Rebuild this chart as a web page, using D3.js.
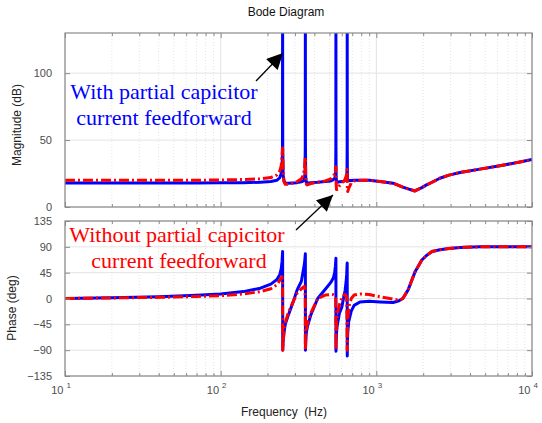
<!DOCTYPE html>
<html><head><meta charset="utf-8">
<script src="https://cdn.jsdelivr.net/npm/d3@7"></script>
<style>body{margin:0;background:#fff}</style>
</head><body>
<script>
// Frequency points (Hz)
const freqs = [10, 20, 40, 70, 100, 140, 180, 210, 230, 240,
  245, 248, 249.5, 250, 250.5, 252, 255, 260, 272, 293,
  310, 330, 340, 345, 348, 349.5, 350, 350.5, 352, 355,
  360, 380, 420, 470, 510, 530, 540, 545, 548, 549.5,
  550, 550.5, 552, 555, 560, 580, 600, 620, 630, 640,
  645, 648, 649.5, 650, 650.5, 652, 655, 665, 690, 720,
  785, 900, 1055, 1280, 1400, 1480, 1600, 1770, 1960, 2100,
  2280, 2560, 2930, 3450, 4630, 6220, 8360, 10000];
// Magnitude (dB) - with partial capacitor current feedforward (blue)
const magWith = [18, 18, 18, 18, 18.1, 18.2, 18.5, 19, 20, 22,
  25, 30, 45, 140, 45, 24, 19.5, 18, 17.8, 18,
  18.2, 18.8, 19.5, 21, 25, 45, 140, 45, 22, 18.5,
  18, 18.2, 18.5, 19, 19.5, 20.5, 21.5, 23, 27, 45,
  140, 45, 22, 19, 18.5, 18.8, 19, 19.2, 20, 21,
  23, 27, 45, 140, 45, 22, 20, 19.8, 19.8, 20,
  20, 20, 19, 17.8, 16, 14.8, 13.5, 12, 14.5, 16.5,
  18.5, 21.5, 23.8, 25.8, 28.3, 30.8, 33.6, 35.5];
// Magnitude (dB) - without (red)
const magWithout = [20, 20, 20, 20, 20.2, 20.5, 21, 22, 24, 27,
  31, 38, 43, 44, 40, 28, 19, 17, 17, 18,
  19, 21, 24, 29, 34, 37, 36, 30, 22, 17,
  16.5, 17.5, 18.5, 19.5, 21, 23, 25, 27, 29, 30,
  29, 24, 17, 13, 13, 16, 18, 19.5, 21, 23,
  25, 27, 28, 26, 20, 13, 11.5, 14, 18, 19.5,
  20, 20, 19, 17.8, 16, 14.8, 13.5, 12, 14.5, 16.5,
  18.5, 21.5, 23.8, 25.8, 28.3, 30.8, 33.6, 35.5];
// Phase (deg) - with (blue)
const phaseWith = [0, 1.5, 3, 5.5, 8, 12, 18, 25, 33, 42,
  52, 65, 78, 82, -90, -75, -60, -45, -29, -5,
  15, 30, 50, 60, 70, 76, 78, -90, -75, -60,
  -50, -28, 0, 16, 28, 36, 45, 55, 63, 68,
  70, -92, -75, -60, -48, -25, -15, 5, 14, 30,
  42, 55, 60, 62, -100, -75, -60, -40, -22, -12,
  -6, -5, -6, -7, -4, 0, 15, 46, 67, 75,
  82, 85, 87, 89, 90, 90, 90, 90];
// Phase (deg) - without (red)
const phaseWithout = [0, 1, 2, 3.5, 5, 8, 12, 17, 24, 32,
  36, 38, 30, 0, -90, -75, -58, -42, -25, -5,
  9, 17, 20, 21, 18, 0, -90, -88, -70, -55,
  -45, -25, 0, 6, 7, 6.5, 5, 3, 0, -30,
  -90, -88, -65, -45, -30, -10, 0, 6, 7, 5,
  0, -40, -85, -90, -85, -60, -40, -15, 0, 6,
  8, 7, 3, -1, -3, 0, 15, 46, 67, 75,
  82, 85, 87, 89, 90, 90, 90, 90];

const magTicks = [0, 50, 100];
const phaseTicks = [-135, -90, -45, 0, 45, 90, 135];
const decadeTicks = [10, 100, 1000, 10000];

const W = 542, H = 423;
const svg = d3.select("body").append("svg").attr("width", W).attr("height", H)
  .style("font-family", "Liberation Sans, Arial, sans-serif");

const x = d3.scaleLog().domain([10, 10000]).range([65, 532]);
const yMag = d3.scaleLinear().domain([0, 130]).range([207, 33]);
const yPh = d3.scaleLinear().domain([-135, 135]).range([376, 221]);

const minorX = x.ticks().filter(v => !decadeTicks.includes(v));
const gridC = "#e3e3e3", boxC = "#8a8a8a", labC = "#4d4d4d";

function panel(id, y, yTicks, series) {
  const [y0, y1] = y.range();
  const x0 = x.range()[0], x1 = x.range()[1];
  const g = svg.append("g");
  g.append("clipPath").attr("id", id).append("rect")
    .attr("x", x0).attr("y", y1).attr("width", x1 - x0).attr("height", y0 - y1);
  g.selectAll(null).data(minorX).join("line")
    .attr("x1", d => x(d)).attr("x2", d => x(d)).attr("y1", y1).attr("y2", y0)
    .attr("stroke", gridC).attr("stroke-dasharray", "1,2");
  g.selectAll(null).data(decadeTicks).join("line")
    .attr("x1", d => x(d)).attr("x2", d => x(d)).attr("y1", y1).attr("y2", y0)
    .attr("stroke", gridC);
  g.selectAll(null).data(yTicks).join("line")
    .attr("x1", x0).attr("x2", x1).attr("y1", d => y(d)).attr("y2", d => y(d))
    .attr("stroke", gridC);
  const cg = g.append("g").attr("clip-path", `url(#${id})`);
  series.forEach(s => {
    const line = d3.line().x((d, i) => x(freqs[i])).y(d => y(d));
    cg.append("path").attr("d", line(s.values)).attr("fill", "none")
      .attr("stroke", s.color).attr("stroke-width", 3)
      .attr("stroke-dasharray", s.dash || null)
      .attr("stroke-linejoin", "round");
  });
  const ax = g.append("g").attr("color", boxC);
  ax.append("g").attr("transform", `translate(${x0},0)`)
    .call(d3.axisLeft(y).tickValues(yTicks).tickSize(-5).tickPadding(13).tickFormat(d3.format("d")))
    .call(a => a.select(".domain").remove())
    .call(a => a.selectAll("text").attr("fill", labC).style("font-size", "11px").attr("x", -13));
  ax.append("g").attr("transform", `translate(${x1},0)`)
    .call(d3.axisRight(y).tickValues(yTicks).tickSize(-5).tickFormat(""))
    .call(a => a.select(".domain").remove());
  ax.append("g").attr("transform", `translate(0,${y0})`)
    .call(d3.axisBottom(x).tickValues(decadeTicks).tickSize(-5).tickFormat(""))
    .call(a => a.select(".domain").remove());
  ax.append("g").attr("transform", `translate(0,${y0})`)
    .call(d3.axisBottom(x).tickValues(minorX).tickSize(-3).tickFormat(""))
    .call(a => a.select(".domain").remove());
  ax.append("g").attr("transform", `translate(0,${y1})`)
    .call(d3.axisTop(x).tickValues(decadeTicks).tickSize(-5).tickFormat(""))
    .call(a => a.select(".domain").remove());
  ax.append("g").attr("transform", `translate(0,${y1})`)
    .call(d3.axisTop(x).tickValues(minorX).tickSize(-3).tickFormat(""))
    .call(a => a.select(".domain").remove());
  g.append("rect").attr("x", x0).attr("y", y1).attr("width", x1 - x0).attr("height", y0 - y1)
    .attr("fill", "none").attr("stroke", boxC).attr("stroke-width", 1.2);
  return g;
}

const blue = "#0000ff", red = "#ff0000", dash = "10,3,2,3";
panel("clipMag", yMag, magTicks, [
  { values: magWith, color: blue },
  { values: magWithout, color: red, dash: dash }
]);
panel("clipPh", yPh, phaseTicks, [
  { values: phaseWith, color: blue },
  { values: phaseWithout, color: red, dash: dash }
]);

const xl = svg.append("g").attr("fill", labC).style("font-size", "11px");
decadeTicks.forEach(d => {
  const t = xl.append("text").attr("x", x(d) - 4).attr("y", 394).attr("text-anchor", "middle");
  t.append("tspan").text("10");
  t.append("tspan").attr("dx", 3).attr("dy", -6).style("font-size", "8px").text(String(Math.round(Math.log10(d))));
});

svg.append("text").attr("x", 286).attr("y", 16).attr("text-anchor", "middle")
  .style("font-size", "12px").attr("fill", "#111").text("Bode Diagram");
svg.append("text").attr("x", 284).attr("y", 416).attr("text-anchor", "middle")
  .style("font-size", "12px").attr("fill", "#222").attr("xml:space", "preserve").text("Frequency  (Hz)");
svg.append("text").attr("transform", "translate(21,125) rotate(-90)").attr("text-anchor", "middle")
  .style("font-size", "12px").attr("fill", "#222").text("Magnitude (dB)");
svg.append("text").attr("transform", "translate(16,308) rotate(-90)").attr("text-anchor", "middle")
  .style("font-size", "12px").attr("fill", "#222").text("Phase (deg)");

const serif = "Liberation Serif, Times New Roman, serif";
const ann = svg.append("g").style("font-family", serif).style("font-size", "22px").attr("text-anchor", "middle");
ann.append("text").attr("x", 164).attr("y", 99).attr("fill", blue).text("With partial capicitor");
ann.append("text").attr("x", 164).attr("y", 125).attr("fill", blue).text("current feedforward");
ann.append("text").attr("x", 177).attr("y", 242).attr("fill", red).text("Without partial capicitor");
ann.append("text").attr("x", 179).attr("y", 268).attr("fill", red).text("current feedforward");

const defs = svg.append("defs");
defs.append("marker").attr("id", "ah").attr("viewBox", "0 0 10 10").attr("refX", 10).attr("refY", 5)
  .attr("markerWidth", 18).attr("markerHeight", 16).attr("markerUnits", "userSpaceOnUse").attr("orient", "auto")
  .append("path").attr("d", "M0,0 L10,5 L0,10 z").attr("fill", "#000");
svg.append("line").attr("x1", 256).attr("y1", 81).attr("x2", 283).attr("y2", 53)
  .attr("stroke", "#000").attr("stroke-width", 1.3).attr("marker-end", "url(#ah)");
svg.append("line").attr("x1", 296).attr("y1", 230).attr("x2", 333).attr("y2", 195)
  .attr("stroke", "#000").attr("stroke-width", 1.3).attr("marker-end", "url(#ah)");
</script>
</body></html>
